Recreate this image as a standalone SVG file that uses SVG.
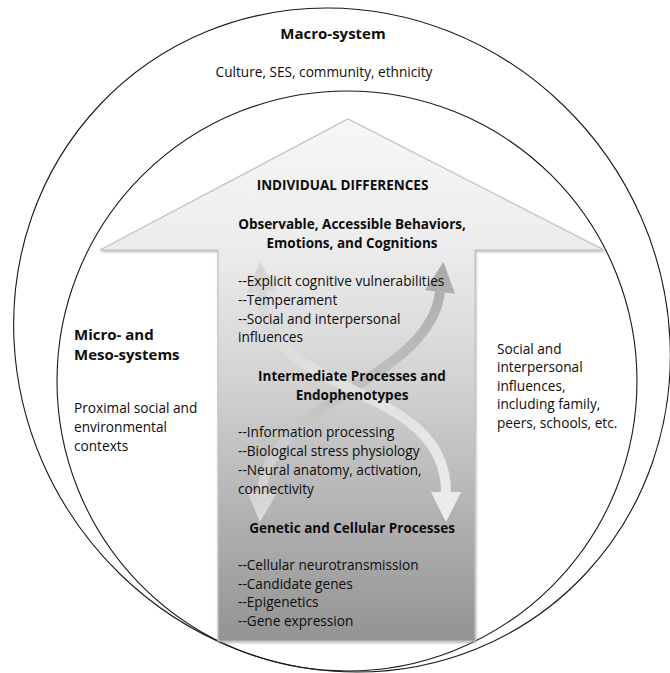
<svg xmlns="http://www.w3.org/2000/svg" width="670" height="673" viewBox="0 0 670 673">
<style>
text{font-family:'Open Sans','Noto Sans',sans-serif;fill:#0d0d0d;}
.b{font-size:13.65px;}
.h{font-size:13.5px;font-weight:bold;}
.hc{font-size:13.5px;font-weight:bold;text-anchor:middle;}
.big{font-size:15px;font-weight:bold;}
.ring{fill:none;stroke:#1a1a1a;stroke-width:1.1;}
</style>
<defs>
<linearGradient id="gArrow" gradientUnits="userSpaceOnUse" x1="0" y1="119" x2="0" y2="641">
<stop offset="0" stop-color="#f7f7f7"/>
<stop offset="0.25" stop-color="#ececec"/>
<stop offset="0.5" stop-color="#d3d3d3"/>
<stop offset="1" stop-color="#939393"/>
</linearGradient>
<linearGradient id="gA" gradientUnits="userSpaceOnUse" x1="0" y1="262" x2="0" y2="522">
<stop offset="0" stop-color="#a9a9a9"/>
<stop offset="1" stop-color="#dadada"/>
</linearGradient>
<linearGradient id="gB" gradientUnits="userSpaceOnUse" x1="0" y1="262" x2="0" y2="522">
<stop offset="0" stop-color="#d4d4d4"/>
<stop offset="1" stop-color="#eeeeee"/>
</linearGradient>
<filter id="sh" x="-5%" y="-5%" width="110%" height="110%">
<feDropShadow dx="0.8" dy="1.5" stdDeviation="1" flood-color="#8a8a8a" flood-opacity="0.6"/>
</filter>
</defs>

<g id="macro-system">
<ellipse class="ring" cx="0" cy="0" rx="328" ry="332" transform="translate(342,340) skewX(2.6)"/>
<text class="big" x="333" y="39" text-anchor="middle">Macro-system</text>
<text class="b" x="324" y="77" text-anchor="middle">Culture, SES, community, ethnicity</text>
</g>

<g id="micro-meso-systems">
<circle class="ring" cx="347" cy="381" r="290"/>
<text class="big" x="74" y="339.5">Micro- and</text>
<text class="big" x="74" y="360">Meso-systems</text>
<text class="b" x="74" y="412.5">Proximal social and</text>
<text class="b" x="74" y="431.5">environmental</text>
<text class="b" x="74" y="450.5">contexts</text>
<text class="b" x="497" y="353.5">Social and</text>
<text class="b" x="497" y="372">interpersonal</text>
<text class="b" x="497" y="390.5">influences,</text>
<text class="b" x="497" y="409">including family,</text>
<text class="b" x="497" y="428">peers, schools, etc.</text>
</g>

<g id="individual-differences">
<path d="M348,119 L604,250 L475,250 L475,641 L218,641 L218,250 L100,250 Z" fill="url(#gArrow)" stroke="#c2c2c2" stroke-width="1.2" filter="url(#sh)"/>
</g>

<g id="connectors">
<path d="M262,492 C268,400 430,380 440,292" fill="none" stroke="url(#gA)" stroke-width="10"/>
<polygon points="443.4,262 455,293.7 425,290.3" fill="url(#gA)"/>
<polygon points="260,522 277,493 247,491" fill="url(#gA)"/>
<path d="M262,292 C262,400 446,380 446,492" fill="none" stroke="url(#gB)" stroke-width="10"/>
<polygon points="260,262 277,291 247,293" fill="url(#gB)"/>
<polygon points="446,522 461,492 431,492" fill="url(#gB)"/>
</g>

<g id="individual-differences-text">
<text class="h" x="342.5" y="190" text-anchor="middle">INDIVIDUAL DIFFERENCES</text>
<text class="hc" x="352" y="229">Observable, Accessible Behaviors,</text>
<text class="hc" x="352" y="247.5">Emotions, and Cognitions</text>
<text class="b" x="238" y="285.5">--Explicit cognitive vulnerabilities</text>
<text class="b" x="238" y="304.5">--Temperament</text>
<text class="b" x="238" y="323.5">--Social and interpersonal</text>
<text class="b" x="238" y="342">influences</text>
<text class="hc" x="352" y="380.5">Intermediate Processes and</text>
<text class="hc" x="352" y="399.5">Endophenotypes</text>
<text class="b" x="238" y="437">--Information processing</text>
<text class="b" x="238" y="456">--Biological stress physiology</text>
<text class="b" x="238" y="475">--Neural anatomy, activation,</text>
<text class="b" x="238" y="494">connectivity</text>
<text class="hc" x="352" y="532.5">Genetic and Cellular Processes</text>
<text class="b" x="238" y="570">--Cellular neurotransmission</text>
<text class="b" x="238" y="588.5">--Candidate genes</text>
<text class="b" x="238" y="607">--Epigenetics</text>
<text class="b" x="238" y="626">--Gene expression</text>
</g>
</svg>
